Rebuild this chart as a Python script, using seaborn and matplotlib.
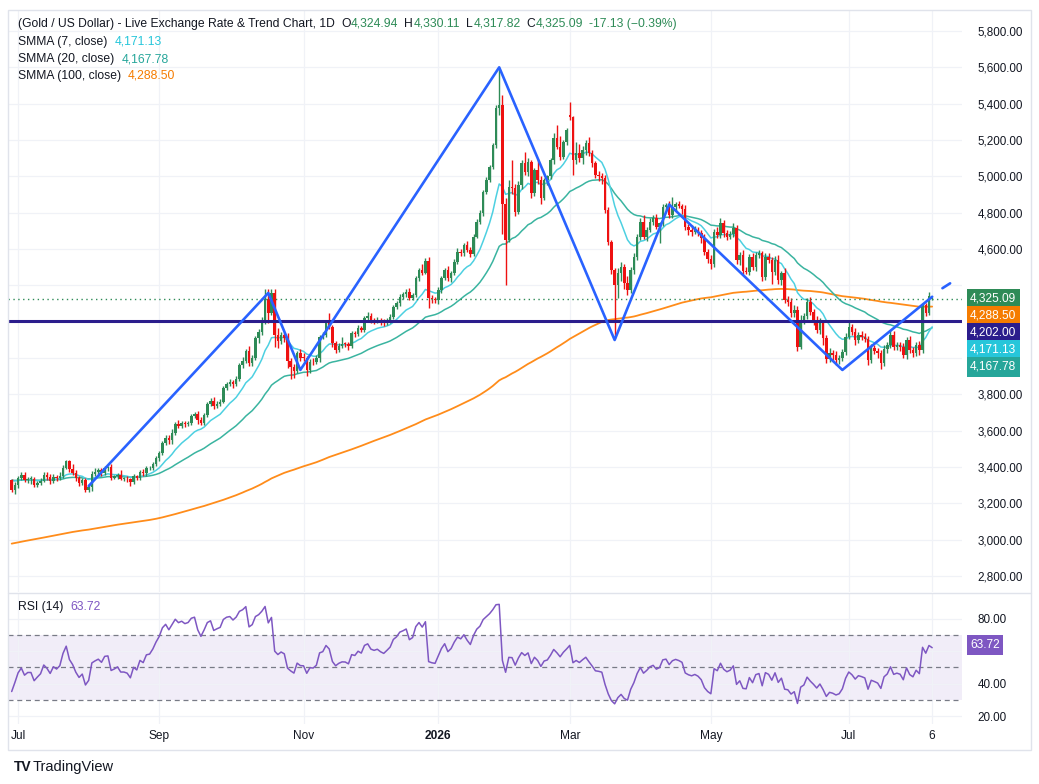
import numpy as np
import pandas as pd
import seaborn as sns
import matplotlib
matplotlib.use("Agg")
import matplotlib.pyplot as plt
from matplotlib.patches import Rectangle
from matplotlib.lines import Line2D

W, H = 1039, 784

# daily closes, upper wicks and lower wicks, month by month
close_jun25 = [3274, 3303]
up_jun25 = [8, 12]
lo_jun25 = [14, 23]

close_jul25 = [3338, 3357, 3326, 3336, 3336, 3301, 3313, 3324, 3355, 3343, 3324, 3347,
               3339, 3350, 3397, 3431, 3387, 3368, 3337, 3314, 3326, 3274, 3290]
up_jul25 = [12, 15, 18, 10, 14, 8, 12, 15, 20, 18, 16, 12, 10, 22, 14, 8, 10, 30, 18, 16, 12, 14, 18]
lo_jul25 = [18, 12, 10, 16, 30, 14, 12, 10, 8, 14, 18, 12, 16, 10, 12, 10, 15, 10, 14, 20, 12, 10, 14]

close_aug25 = [3363, 3373, 3381, 3369, 3396, 3398, 3342, 3348, 3356, 3336, 3336, 3332,
               3315, 3348, 3339, 3372, 3365, 3394, 3397, 3417, 3448]
up_aug25 = [15, 20, 12, 14, 12, 10, 18, 10, 12, 25, 8, 12, 10, 14, 10, 12, 15, 12, 10, 12, 10]
lo_aug25 = [20, 12, 10, 16, 12, 18, 14, 10, 12, 8, 14, 12, 20, 10, 12, 10, 15, 12, 10, 14, 12]

close_sep25 = [3477, 3533, 3560, 3546, 3587, 3636, 3627, 3640, 3634, 3643, 3680, 3690,
               3660, 3643, 3685, 3746, 3763, 3736, 3749, 3760, 3833, 3858]
up_sep25 = [10, 12, 18, 15, 20, 12, 25, 14, 12, 10, 12, 15, 20, 16, 10, 12, 15, 20, 12, 14, 10, 12]
lo_sep25 = [15, 10, 12, 20, 18, 10, 15, 12, 16, 10, 12, 10, 25, 14, 10, 12, 10, 18, 12, 16, 10, 12]

close_oct25 = [3866, 3857, 3887, 3960, 3985, 4040, 3975, 4000, 4110, 4142, 4208, 4326,
               4250, 4356, 4125, 4095, 4126, 4111, 3981, 3952, 3930, 4025, 4002]
up_oct25 = [20, 15, 14, 10, 18, 12, 25, 16, 12, 15, 20, 53, 53, 25, 24, 40, 18, 14, 25, 20, 16, 15, 24]
lo_oct25 = [15, 20, 12, 15, 14, 10, 18, 20, 12, 25, 14, 20, 55, 12, 67, 40, 20, 25, 35, 65, 40, 14, 18]

close_nov25 = [4000, 3932, 3980, 3977, 4000, 4115, 4128, 4195, 4172, 4080, 4045, 4066,
               4078, 4077, 4065, 4136, 4131, 4165, 4155, 4218]
up_nov25 = [25, 12, 15, 20, 18, 12, 16, 15, 50, 10, 14, 16, 40, 12, 10, 15, 12, 14, 10, 12]
lo_nov25 = [15, 30, 12, 14, 10, 20, 12, 10, 14, 20, 18, 12, 10, 14, 20, 12, 15, 10, 12, 14]

close_dec25 = [4232, 4206, 4200, 4208, 4197, 4190, 4208, 4228, 4280, 4300, 4338, 4350,
               4365, 4330, 4345, 4440, 4486, 4470, 4532, 4330, 4322, 4318]
up_dec25 = [20, 14, 12, 15, 10, 18, 12, 14, 10, 12, 16, 14, 12, 20, 10, 14, 12, 30, 20, 25, 15, 12]
lo_dec25 = [10, 14, 12, 10, 18, 12, 10, 14, 12, 10, 15, 12, 14, 10, 12, 10, 14, 12, 10, 55, 18, 14]

close_jan26 = [4374, 4438, 4484, 4438, 4466, 4530, 4585, 4576, 4622, 4594, 4572, 4668,
               4750, 4796, 4915, 4980, 5053, 5172, 5374, 5392, 4850]
up_jan26 = [15, 12, 14, 20, 12, 16, 18, 14, 12, 20, 15, 12, 14, 16, 12, 18, 10, 14, 20, 203, 58]
lo_jan26 = [20, 14, 10, 12, 18, 10, 14, 12, 16, 10, 14, 12, 10, 14, 12, 10, 14, 12, 15, 34, 170]

close_feb26 = [4650, 4940, 4935, 4805, 4952, 5071, 5025, 5081, 4906, 5035, 4980, 4879,
               4980, 5000, 5090, 5209, 5163, 5108, 5191, 5255]
up_feb26 = [30, 40, 150, 20, 20, 20, 65, 20, 10, 10, 60, 20, 10, 10, 10, 30, 75, 60, 10, 12]
lo_feb26 = [248, 10, 30, 25, 15, 20, 20, 25, 25, 15, 20, 30, 10, 30, 15, 20, 15, 20, 15, 20]

close_mar26 = [5328, 5090, 5130, 5100, 5145, 5185, 5127, 5071, 5007, 5000, 4989, 4815,
               4640, 4484, 4402, 4466, 4500, 4411, 4374, 4484, 4558, 4668]
up_mar26 = [73, 2, 60, 50, 20, 15, 30, 20, 15, 25, 20, 20, 15, 10, 10, 30, 30, 20, 40, 16, 22, 12]
lo_mar26 = [18, 85, 20, 20, 30, 25, 17, 21, 17, 25, 30, 15, 20, 24, 294, 70, 40, 30, 27, 14, 20, 18]

close_apr26 = [4750, 4668, 4704, 4750, 4769, 4723, 4741, 4833, 4842, 4787, 4830, 4845,
               4835, 4820, 4723, 4705, 4695, 4705, 4690, 4660, 4585, 4545]
up_apr26 = [20, 35, 15, 18, 20, 25, 10, 15, 12, 20, 58, 15, 20, 15, 20, 12, 25, 20, 15, 12, 20, 15]
lo_apr26 = [20, 15, 25, 12, 18, 15, 92, 12, 20, 15, 18, 20, 12, 25, 20, 30, 22, 15, 20, 25, 18, 20]

close_may26 = [4520, 4695, 4677, 4741, 4690, 4668, 4680, 4713, 4540, 4567, 4480, 4475,
               4558, 4503, 4567, 4576, 4445, 4558, 4540, 4475, 4540]
up_may26 = [20, 15, 25, 30, 20, 15, 18, 30, 20, 15, 25, 20, 15, 22, 18, 20, 15, 18, 20, 15, 22]
lo_may26 = [30, 20, 15, 18, 25, 20, 12, 15, 25, 30, 20, 15, 20, 18, 25, 15, 20, 18, 15, 70, 20]

close_jun26 = [4429, 4466, 4319, 4310, 4246, 4264, 4062, 4209, 4230, 4310, 4255, 4209,
               4154, 4190, 4108, 3995, 4030, 4016, 3989, 3998, 4034, 4117]
up_jun26 = [25, 15, 30, 20, 18, 25, 20, 30, 15, 20, 25, 15, 20, 30, 15, 20, 25, 15, 20, 20, 15, 18]
lo_jun26 = [20, 30, 15, 25, 20, 20, 25, 15, 20, 15, 20, 25, 15, 20, 35, 20, 15, 25, 30, 20, 15, 20]

close_jul26 = [4172, 4144, 4099, 4126, 4117, 4105, 3989, 4053, 4040, 4025, 3970, 4050,
               4071, 4126, 4062, 4071, 4062, 4016, 4100, 4044, 4025, 4071, 4044]
up_jul26 = [30, 15, 20, 18, 25, 20, 15, 25, 20, 15, 18, 20, 15, 30, 20, 15, 18, 20, 15, 20, 18, 15, 20]
lo_jul26 = [15, 20, 25, 15, 20, 18, 30, 15, 20, 25, 30, 15, 20, 15, 20, 18, 25, 15, 20, 18, 20, 15, 25]

close_aug26 = [4292, 4245, 4342.22, 4325.09]
up_aug26 = [8, 8, 23, 5.02]
lo_aug26 = [15, 12, 10, 7.12]

# bars whose open is not the previous close
gap_open = {0: 3328.0, 174: 5338.0, 285: 4292.0, 287: 4324.94}

# zigzag drawing (bar, price) and its projected dash
zz_bar = [24, 80, 90, 152, 188, 205, 259, 287]
zz_price = [3295, 4358, 3934, 5600, 4099, 4845, 3934, 4337]
proj_bar = [290.2, 292.6]
proj_price = [4384, 4411]

level_price = 4202.0
last_price = 4325.09

# price-scale labels
label_vals = [4325.09, 4288.50, 4202.00, 4171.13, 4167.78]
label_cols = ["#2e8b57", "#f57c00", "#2b1d8c", "#26c6da", "#26a69a"]
rsi_last = 63.72

price_ticks = list(range(2800, 5801, 200))
rsi_ticks = [20, 40, 60, 80]

tick_days = ["2025-07-01", "2025-09-01", "2025-11-03", "2026-01-02",
             "2026-03-02", "2026-05-01", "2026-07-01", "2026-08-06"]
tick_text = ["Jul", "Sep", "Nov", "2026", "Mar", "May", "Jul", "6"]

months = [
    (close_jun25, up_jun25, lo_jun25), (close_jul25, up_jul25, lo_jul25),
    (close_aug25, up_aug25, lo_aug25), (close_sep25, up_sep25, lo_sep25),
    (close_oct25, up_oct25, lo_oct25), (close_nov25, up_nov25, lo_nov25),
    (close_dec25, up_dec25, lo_dec25), (close_jan26, up_jan26, lo_jan26),
    (close_feb26, up_feb26, lo_feb26), (close_mar26, up_mar26, lo_mar26),
    (close_apr26, up_apr26, lo_apr26), (close_may26, up_may26, lo_may26),
    (close_jun26, up_jun26, lo_jun26), (close_jul26, up_jul26, lo_jul26),
    (close_aug26, up_aug26, lo_aug26),
]

dates = pd.bdate_range("2025-06-27", "2026-08-06")
dates = dates[~dates.isin(pd.to_datetime(["2025-12-25", "2026-01-01"]))]
per_month = dates.to_period("M").value_counts().sort_index().tolist()
for k, (c, u, l) in enumerate(months):
    if not (len(c) == len(u) == len(l) == per_month[k]):
        raise ValueError(f"month {k}: {len(c)} {len(u)} {len(l)} vs {per_month[k]}")

close = np.array(sum([m[0] for m in months], []), dtype=float)
up = np.array(sum([m[1] for m in months], []), dtype=float)
lo = np.array(sum([m[2] for m in months], []), dtype=float)
idx = np.arange(len(close))

opn = np.r_[close[0], close[:-1]]
for k, v in gap_open.items():
    opn[k] = v
high = np.maximum(opn, close) + up
low = np.minimum(opn, close) - lo


def smma(src, n, seed):
    out = np.empty(len(src))
    prev = seed
    for k, v in enumerate(src):
        prev = (prev * (n - 1) + v) / n
        out[k] = prev
    return out


def rsi(src, prev_close, n=14, g0=9.0, l0=12.5):
    diff = np.diff(np.r_[prev_close, src])
    g, l = g0, l0
    out = np.empty(len(src))
    for k, d in enumerate(diff):
        g = (g * (n - 1) + max(d, 0)) / n
        l = (l * (n - 1) + max(-d, 0)) / n
        out[k] = 100 - 100 / (1 + g / l)
    return out


smma7 = smma(close, 7, 3335)
smma20 = smma(close, 20, 3330)
smma100 = smma(close, 100, 2975)
rsi14 = rsi(close, opn[0])

sns.set_theme(style="white")
plt.rcParams["font.family"] = ["Liberation Sans", "DejaVu Sans"]
txt = "#131722"
green, red = "#2e8b57", "#ee1111"
grid = "#f0f2f7"

fig = plt.figure(figsize=(W / 100, H / 100), dpi=100)
px = lambda x0, y0, x1, y1: [x0 / W, 1 - y1 / H, (x1 - x0) / W, (y1 - y0) / H]
ax = fig.add_axes(px(8, 10, 962, 592))
ax2 = fig.add_axes(px(8, 593, 962, 724), sharex=ax)

xlim = (-1.15, 296.3)
tick_pos = [dates.get_loc(pd.Timestamp(d)) for d in tick_days]
box_gap = 17 / 582


def box(axis, fr, val, col):
    axis.text(1.0085, fr, f"{val:,.2f}", transform=axis.transAxes, ha="left", va="center",
              fontsize=8.6, color="white", zorder=10, clip_on=False,
              bbox=dict(boxstyle="square,pad=0.3", fc=col, ec="none"))


# price pane
ax.set_xlim(*xlim)
ax.set_ylim(2711.7, 5915.6)
ylo, yhi = ax.get_ylim()
for v in price_ticks:
    ax.axhline(v, color=grid, lw=0.9, zorder=0)
for t in tick_pos:
    ax.axvline(t, color=grid, lw=0.9, zorder=0)

sns.lineplot(x=idx, y=smma100, ax=ax, color="#ff8c1a", lw=1.3, zorder=2)
sns.lineplot(x=idx, y=smma20, ax=ax, color="#3ab4a0", lw=1.1, zorder=2)
sns.lineplot(x=idx, y=smma7, ax=ax, color="#4dd0e1", lw=1.1, zorder=2)

cols = np.where(close >= opn, green, red)
ax.vlines(idx, low, high, colors=cols, lw=1.0, zorder=3)
body = np.maximum(np.abs(close - opn), 3)
ax.bar(idx, body, bottom=np.minimum(opn, close), width=0.78, color=cols, lw=0, zorder=3)

ax.axhline(last_price, color=green, lw=1.0, ls=(0, (1, 2.5)), zorder=3.5)
ax.axhline(level_price, color="#2b1d8c", lw=2.2, zorder=4)
ax.plot(zz_bar, zz_price, color="#2962ff", lw=1.9, zorder=5, solid_capstyle="round")
ax.plot(proj_bar, proj_price, color="#2962ff", lw=1.9, zorder=5, solid_capstyle="round")

# stacked price-scale labels; tick labels under them are hidden like on the original
box_fr = []
prev = None
for val, col in zip(label_vals, label_cols):
    fr = (val - ylo) / (yhi - ylo)
    if prev is not None:
        fr = min(fr, prev - box_gap)
    box(ax, fr, val, col)
    box_fr.append(fr)
    prev = fr

tick_lab = []
for v in price_ticks:
    f = (v - ylo) / (yhi - ylo)
    covered = any(abs(f - b) < box_gap * 0.9 for b in box_fr)
    tick_lab.append("" if covered else f"{v:,.2f}")
ax.yaxis.tick_right()
ax.set_yticks(price_ticks)
ax.set_yticklabels(tick_lab)
ax.tick_params(axis="y", length=0, pad=11, labelsize=8.4, labelcolor=txt)
ax.tick_params(axis="x", length=0, labelbottom=False)
ax.set_xlabel("")
ax.set_ylabel("")
for s in ax.spines.values():
    s.set_visible(False)

# RSI pane
r_lo, r_hi = 15.1, 95.7
ax2.set_ylim(r_lo, r_hi)
ax2.axhspan(30, 70, color="#7e57c2", alpha=0.1, lw=0, zorder=0)
for v in rsi_ticks:
    ax2.axhline(v, color=grid, lw=0.9, zorder=0.5)
for t in tick_pos:
    ax2.axvline(t, color=grid, lw=0.9, zorder=0.5)
for v in (70, 50, 30):
    ax2.axhline(v, color="#787b86", lw=0.9, ls=(0, (4, 3)), zorder=1)
sns.lineplot(x=idx, y=rsi14, ax=ax2, color="#7e57c2", lw=1.1, zorder=3)

rsi_fr = (rsi_last - r_lo) / (r_hi - r_lo)
box(ax2, rsi_fr, rsi_last, "#7e57c2")
rsi_gap = 17 / 131
ax2.yaxis.tick_right()
ax2.set_yticks(rsi_ticks)
ax2.set_yticklabels(["" if abs((v - r_lo) / (r_hi - r_lo) - rsi_fr) < rsi_gap * 0.9
                     else f"{v:.2f}" for v in rsi_ticks])
ax2.tick_params(axis="y", length=0, pad=11, labelsize=8.4, labelcolor=txt)
ax2.set_xticks(tick_pos)
ax2.set_xticklabels(tick_text)
ax2.tick_params(axis="x", length=0, pad=4, labelsize=8.6, labelcolor=txt)
for lab in ax2.get_xticklabels():
    if lab.get_text() == "2026":
        lab.set_fontweight("bold")
ax2.set_xlim(*xlim)
ax2.set_xlabel("")
ax2.set_ylabel("")
for s in ax2.spines.values():
    s.set_visible(False)

# frame and pane separator
fig.patches.append(Rectangle((8 / W, 1 - 750 / H), 1023 / W, 740 / H, transform=fig.transFigure,
                             fill=False, ec="#e0e3eb", lw=1.0))
fig.lines.append(Line2D([8 / W, 1031 / W], [1 - 592.5 / H] * 2, transform=fig.transFigure,
                        color="#e0e3eb", lw=1.0))

renderer = fig.canvas.get_renderer()


def chain(x, y, parts, size, weight="normal"):
    for text, color, space in parts:
        t = fig.text(x / W, 1 - y / H, text, color=color, fontsize=size, ha="left",
                     va="center", fontweight=weight)
        bb = t.get_window_extent(renderer=renderer)
        x = bb.x1 + space


chain(18, 24, [("(Gold / US Dollar) - Live Exchange Rate & Trend Chart, 1D", txt, 6),
               ("O", txt, 0.5), ("4,324.94", green, 6),
               ("H", txt, 0.5), ("4,330.11", green, 6),
               ("L", txt, 0.5), ("4,317.82", green, 6),
               ("C", txt, 0.5), ("4,325.09", green, 6),
               ("-17.13 (\u22120.39%)", green, 0)], 8.7)
chain(18, 42, [("SMMA (7, close)", txt, 7), ("4,171.13", "#26c6da", 0)], 8.7)
chain(18, 59, [("SMMA (20, close)", txt, 7), ("4,167.78", "#26a69a", 0)], 8.7)
chain(18, 76, [("SMMA (100, close)", txt, 7), ("4,288.50", "#f57c00", 0)], 8.7)
chain(18, 607, [("RSI (14)", txt, 7), ("63.72", "#7e57c2", 0)], 8.7)
chain(14, 767, [("TV", txt, 4)], 10, weight="bold")
chain(33, 767, [("TradingView", txt, 0)], 10.5)

fig.savefig("out.png", dpi=100)
